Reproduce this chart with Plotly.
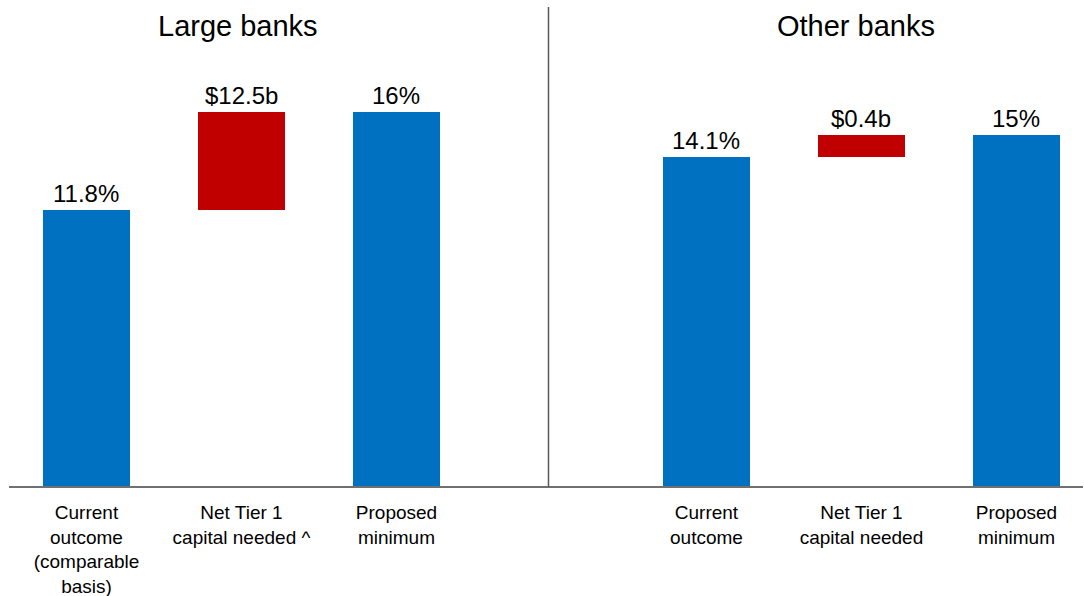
import plotly.graph_objects as go

# ---- data ----
panel_titles = ["Large banks", "Other banks"]
large_categories = ["Current<br>outcome<br>(comparable<br>basis)", "Net Tier 1<br>capital needed ^", "Proposed<br>minimum"]
other_categories = ["Current<br>outcome", "Net Tier 1<br>capital needed", "Proposed<br>minimum"]
large_current = 11.8
large_proposed = 16.0
other_current = 14.1
other_proposed = 15.0
large_labels = ["11.8%", "$12.5b", "16%"]
other_labels = ["14.1%", "$0.4b", "15%"]

BLUE = "#0070C0"
RED = "#C00000"
FONT = "Liberation Sans"

fig = go.Figure()

def add_panel(xref, yref, cur, prop, labels):
    xs = [0, 1, 2]
    bases = [0, cur, 0]
    heights = [cur, prop - cur, prop]
    colors = [BLUE, RED, BLUE]
    fig.add_trace(go.Bar(
        x=xs, y=heights, base=bases, marker=dict(color=colors, line=dict(width=0)),
        width=0.562, xaxis=xref, yaxis=yref, showlegend=False, hoverinfo="skip",
    ))
    tops = [b + h for b, h in zip(bases, heights)]
    for x, t, lab in zip(xs, tops, labels):
        fig.add_annotation(x=x, y=t, text=lab, xref=xref, yref=yref,
                           showarrow=False, yanchor="bottom", yshift=1,
                           font=dict(family=FONT, size=24, color="black"))

add_panel("x", "y", large_current, large_proposed, large_labels)
add_panel("x2", "y", other_current, other_proposed, other_labels)

W, H = 1084, 596
split = 549 / W
ymin, ymax = -4.65, 20.78

tick_font = dict(family=FONT, size=19, color="black")
common_x = dict(tickvals=[0, 1, 2], showgrid=False, zeroline=False, showline=False,
                ticks="", tickfont=tick_font, anchor="free", position=(H - 487) / H,
                automargin=False, ticklabelstandoff=12)
fig.update_layout(
    width=W, height=H,
    margin=dict(l=0, r=0, t=0, b=0, autoexpand=False),
    paper_bgcolor="white", plot_bgcolor="white",
    bargap=0,
    xaxis=dict(domain=[0, split], range=[-0.558, 2.984], ticktext=large_categories, **common_x),
    xaxis2=dict(domain=[split, 1], range=[-1.016, 2.436], ticktext=other_categories, **common_x),
    yaxis=dict(range=[ymin, ymax], visible=False, domain=[0, 1], automargin=False),
)

# baseline and divider
fig.add_shape(type="line", xref="paper", yref="y", x0=9 / W, x1=1083 / W, y0=0, y1=0,
              line=dict(color="#707070", width=2))
fig.add_shape(type="line", xref="paper", yref="paper", x0=548.5 / W, x1=548.5 / W,
              y0=(H - 487) / H, y1=(H - 7) / H, line=dict(color="#595959", width=1.5))

# panel titles
for title, cx in zip(panel_titles, [238, 856]):
    fig.add_annotation(x=cx / W, y=(H - 26) / H, xref="paper", yref="paper",
                       text=title, showarrow=False, xanchor="center", yanchor="middle",
                       font=dict(family=FONT, size=29, color="black"))

fig.write_html("out.html")
